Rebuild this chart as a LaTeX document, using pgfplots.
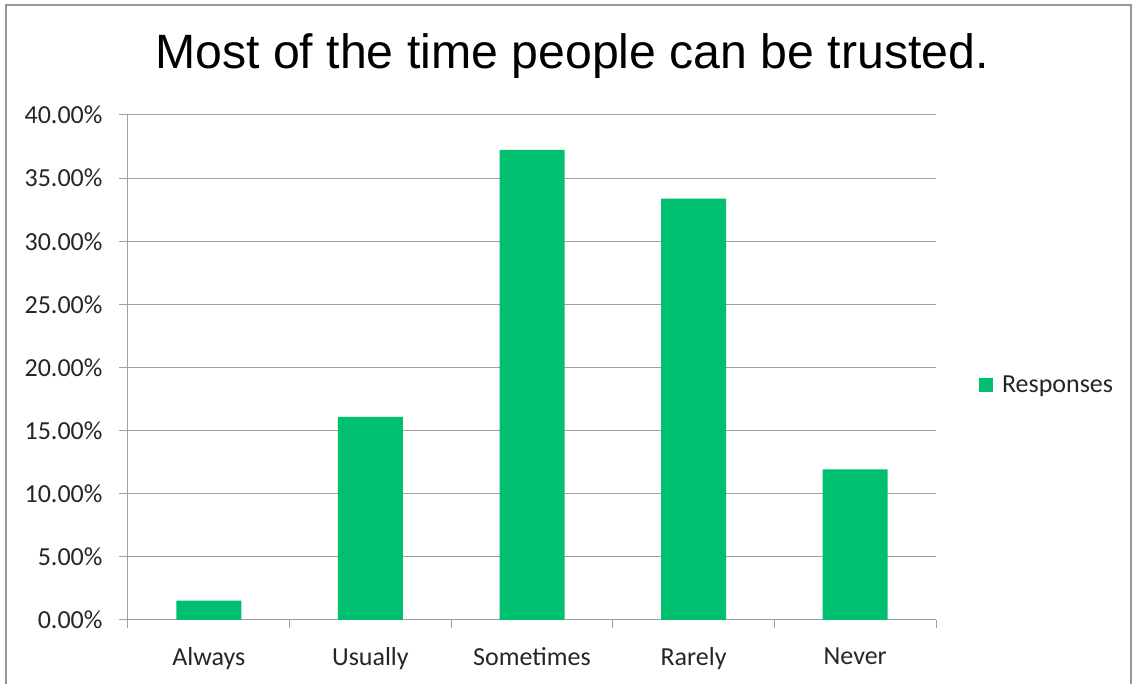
\documentclass[border=0pt]{standalone}
\usepackage{pgfplots}
\pgfplotsset{compat=1.18}
\usepackage{fontspec}
\setmainfont{Carlito}
\newfontfamily\arialfont{Liberation Sans}
\definecolor{barg}{RGB}{0,191,111}
\definecolor{gridg}{RGB}{160,160,160}
\definecolor{frameg}{RGB}{150,150,150}
\begin{document}
\begin{tikzpicture}
\useasboundingbox (-128pt,-64pt) rectangle (1007pt,620pt);
\draw[frameg,line width=1.2pt] (-122pt,-70pt) -- (-122pt,615pt) -- (1003pt,615pt) -- (1003pt,-70pt);
\node[anchor=base,font=\arialfont\fontsize{48.2}{52}\selectfont] at (444pt,551pt) {Most of the time people can be trusted.};
\begin{axis}[
  at={(0pt,0pt)}, anchor=south west,
  scale only axis, width=808pt, height=505pt,
  ymin=0, ymax=40, xmin=0.5, xmax=5.5,
  axis lines=left, axis line style={gridg,line width=1pt,-},
  ytick={0,5,...,40},
  ymajorgrids, grid style={gridg,line width=1pt},
  xtick={1,2,3,4,5},
  xticklabels={Always,Usually,Sometimes,Rarely,Never},
  minor xtick={0.5,1.5,...,5.5},
  major x tick style={draw=none},
  tick style={gridg,line width=1pt},
  major tick length=9pt, minor tick length=8pt, tick align=outside,
  /pgf/number format/assume math mode=true,
  yticklabel={\pgfmathprintnumber[fixed,fixed zerofill,precision=2]{\tick}\%},
  ticklabel style={font=\fontsize{26}{30}\selectfont, text=black!85},
  yticklabel style={xshift=-13pt},
  xticklabel style={yshift=-15pt},
  ybar, bar width=65pt,
  legend style={draw=none, at={(1.053,0.465)}, anchor=west, font=\fontsize{26}{30}\selectfont, text=black!85, inner sep=0pt},
  legend image code/.code={\fill[barg] (0pt,-7pt) rectangle (14pt,7pt); \path (21pt,0pt);},
]
\addplot[fill=barg, draw=none] coordinates {(1,1.53) (2,16.08) (3,37.23) (4,33.37) (5,11.94)};
\addlegendentry{Responses}
\end{axis}
\end{tikzpicture}
\end{document}
